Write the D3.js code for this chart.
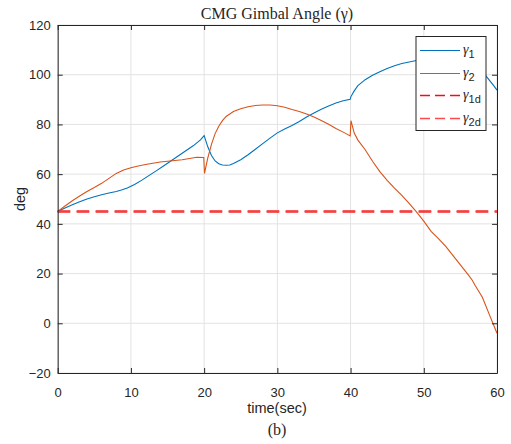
<!DOCTYPE html>
<html>
<head>
<meta charset="utf-8">
<script src="https://cdn.jsdelivr.net/npm/d3@7"></script>
<style>
  body { margin: 0; background: #fff; }
  text { fill: #262626; }
</style>
</head>
<body>
<script>
// time samples and gimbal angles (deg)
var t1 = [0,1,2,3,4,5,6,7,8,8.7,9.5,10.5,11.5,12.5,13.5,14.5,15.5,16.5,17.5,18.5,19.5,20,20.5,21,21.5,22,22.5,23,23.5,24,25,26,27,28,29,30,31,32,33,34,35,36,37,38,39,39.95,40.05,40.5,41,42,43,44,45,46,47,48,49,50,51,52,53,54,55,56,57,58,58.6,59,59.5,60];
var gamma1 = [45,46.4,47.7,48.9,50,50.9,51.7,52.4,53,53.6,54.4,55.8,57.6,59.5,61.4,63.4,65.4,67.4,69.4,71.4,73.8,75.5,71,67.5,65.3,64.2,63.7,63.6,63.7,64.3,65.8,67.8,70,72.3,74.5,76.6,78.2,79.6,81.2,83,84.6,86.1,87.4,88.6,89.5,90.1,91.2,93.5,95.6,98,99.8,101.2,102.5,103.6,104.5,105.1,105.7,106.2,106.6,106.9,107,106.9,106.5,105.4,103.5,100.8,99.1,97.6,95.8,93.8];

var t2 = [0,1,2,3,4,5,6,7,8,9,10,11,12,13,14,15,16,17,18,19,19.95,20.05,20.5,21,21.5,22,22.5,23,24,25,26,27,28,29,30,31,32,33,34,35,36,37,38,39,39.95,40.05,40.5,41,42,43,44,45,46,47,48,49,50,51,52,53,54,55,56,56.6,57,58,59,60];
var gamma2 = [45,47.2,49.3,51.2,53,54.6,56.3,58.3,60.3,61.7,62.6,63.3,63.9,64.4,64.9,65.2,65.5,65.8,66.3,66.8,66.7,60.3,66.5,72,76.3,79.3,81.5,83.2,85.2,86.3,87.1,87.6,87.8,87.8,87.5,86.9,86,85.2,84.2,83,81.6,80.1,78.4,76.9,75.4,81.5,76.5,73.7,69.8,65.2,61,57.5,54.4,51.5,48.2,44.8,41.1,37,34.1,30.9,27.2,23.5,19.8,17.4,15.3,10.5,3.2,-4];

// desired angles
var tDesired = [0, 60];
var gamma1d = [45, 45];
var gamma2d = [45, 45];

var xTicks = [0,10,20,30,40,50,60];
var yTicks = [-20,0,20,40,60,80,100,120];

var W = 511, H = 444;
var mLeft = 57.7, mRight = 497, mTop = 25, mBottom = 373;

var svg = d3.select("body").append("svg")
    .attr("width", W)
    .attr("height", H);

var x = d3.scaleLinear().domain([0, 60]).range([mLeft, mRight]);
var y = d3.scaleLinear().domain([-20, 120]).range([mBottom, mTop]);

// grid
var grid = svg.append("g");
grid.selectAll(".gx").data(xTicks).enter().append("line")
    .attr("x1", d => x(d)).attr("x2", d => x(d))
    .attr("y1", mTop).attr("y2", mBottom)
    .attr("stroke", "#e3e3e3").attr("stroke-width", 1);
grid.selectAll(".gy").data(yTicks).enter().append("line")
    .attr("x1", mLeft).attr("x2", mRight)
    .attr("y1", d => y(d)).attr("y2", d => y(d))
    .attr("stroke", "#e3e3e3").attr("stroke-width", 1);

// series
function pts(ts, vs) { return ts.map((t, i) => [t, vs[i]]); }
var line = d3.line().x(d => x(d[0])).y(d => y(d[1]));

svg.append("path").datum(pts(t1, gamma1))
    .attr("d", line).attr("fill", "none")
    .attr("stroke", "#0072BD").attr("stroke-width", 1.1);
svg.append("path").datum(pts(t2, gamma2))
    .attr("d", line).attr("fill", "none")
    .attr("stroke", "#D95319").attr("stroke-width", 1.1);
svg.append("path").datum(pts(tDesired, gamma1d))
    .attr("d", line).attr("fill", "none")
    .attr("stroke", "#e00000").attr("stroke-width", 2)
    .attr("stroke-dasharray", "12.5,6.5");
svg.append("path").datum(pts(tDesired, gamma2d))
    .attr("d", line).attr("fill", "none")
    .attr("stroke", "#ff3b3b").attr("stroke-width", 2)
    .attr("stroke-dasharray", "12.5,6.5");

// axes box with inside ticks (MATLAB style)
var axisColor = "#262626";
var font = "'Liberation Sans', Arial, sans-serif";
var serif = "'Liberation Serif', 'DejaVu Serif', serif";

svg.append("g").attr("transform", "translate(0," + mBottom + ")")
    .call(d3.axisBottom(x).tickValues(xTicks).tickSizeInner(-5).tickSizeOuter(0).tickPadding(15))
    .call(g => { g.select(".domain").attr("stroke", axisColor);
                 g.selectAll("line").attr("stroke", axisColor);
                 g.selectAll("text").attr("font-family", font).attr("font-size", 13).attr("fill", axisColor); });
svg.append("g").attr("transform", "translate(0," + mTop + ")")
    .call(d3.axisTop(x).tickValues(xTicks).tickSizeInner(-5).tickSizeOuter(0).tickFormat(""))
    .call(g => { g.select(".domain").attr("stroke", axisColor);
                 g.selectAll("line").attr("stroke", axisColor); });
svg.append("g").attr("transform", "translate(" + mLeft + ",0)")
    .call(d3.axisLeft(y).tickValues(yTicks).tickSizeInner(-5).tickSizeOuter(0).tickPadding(7))
    .call(g => { g.select(".domain").attr("stroke", axisColor);
                 g.selectAll("line").attr("stroke", axisColor);
                 g.selectAll("text").attr("font-family", font).attr("font-size", 13).attr("fill", axisColor); });
svg.append("g").attr("transform", "translate(" + mRight + ",0)")
    .call(d3.axisRight(y).tickValues(yTicks).tickSizeInner(-5).tickSizeOuter(0).tickFormat(""))
    .call(g => { g.select(".domain").attr("stroke", axisColor);
                 g.selectAll("line").attr("stroke", axisColor); });

// labels
svg.append("text")
    .attr("x", 277).attr("y", 19)
    .attr("text-anchor", "middle")
    .attr("font-family", serif)
    .attr("font-size", 16)
    .text("CMG Gimbal Angle (γ)");
svg.append("text")
    .attr("x", 277).attr("y", 413)
    .attr("text-anchor", "middle")
    .attr("font-family", font).attr("font-size", 14.5)
    .text("time(sec)");
svg.append("text")
    .attr("x", 277).attr("y", 435)
    .attr("text-anchor", "middle")
    .attr("font-family", serif)
    .attr("font-size", 16)
    .text("(b)");
svg.append("text")
    .attr("transform", "translate(25," + ((mTop + mBottom) / 2) + ") rotate(-90)")
    .attr("text-anchor", "middle")
    .attr("font-family", font).attr("font-size", 14.5)
    .text("deg");

// legend
var legendItems = [
    { sub: "1", color: "#0072BD", width: 1.1, dash: null },
    { sub: "2", color: "#D95319", width: 1.1, dash: null },
    { sub: "1d", color: "#ee1111", width: 1.5, dash: "10,5" },
    { sub: "2d", color: "#ff4a4a", width: 1.5, dash: "10,5" }
];
var lg = svg.append("g");
lg.append("rect")
    .attr("x", 416).attr("y", 36.5)
    .attr("width", 70).attr("height", 94)
    .attr("fill", "#fff").attr("stroke", axisColor).attr("stroke-width", 1);
var rows = lg.selectAll(".row").data(legendItems).enter().append("g")
    .attr("transform", (d, i) => "translate(0," + (Math.round(50 + i * 22.7) + 0.5) + ")");
rows.append("line")
    .attr("x1", 420).attr("x2", 460).attr("y1", 0).attr("y2", 0)
    .attr("stroke", d => d.color).attr("stroke-width", d => d.width)
    .attr("stroke-dasharray", d => d.dash);
var lt = rows.append("text").attr("x", 463).attr("y", 3)
    .attr("font-family", serif)
    .attr("font-size", 14);
lt.append("tspan").attr("font-style", "italic").text("γ");
lt.append("tspan").attr("dy", 4).attr("font-family", font).attr("font-size", 11).text(d => d.sub);
</script>
</body>
</html>
